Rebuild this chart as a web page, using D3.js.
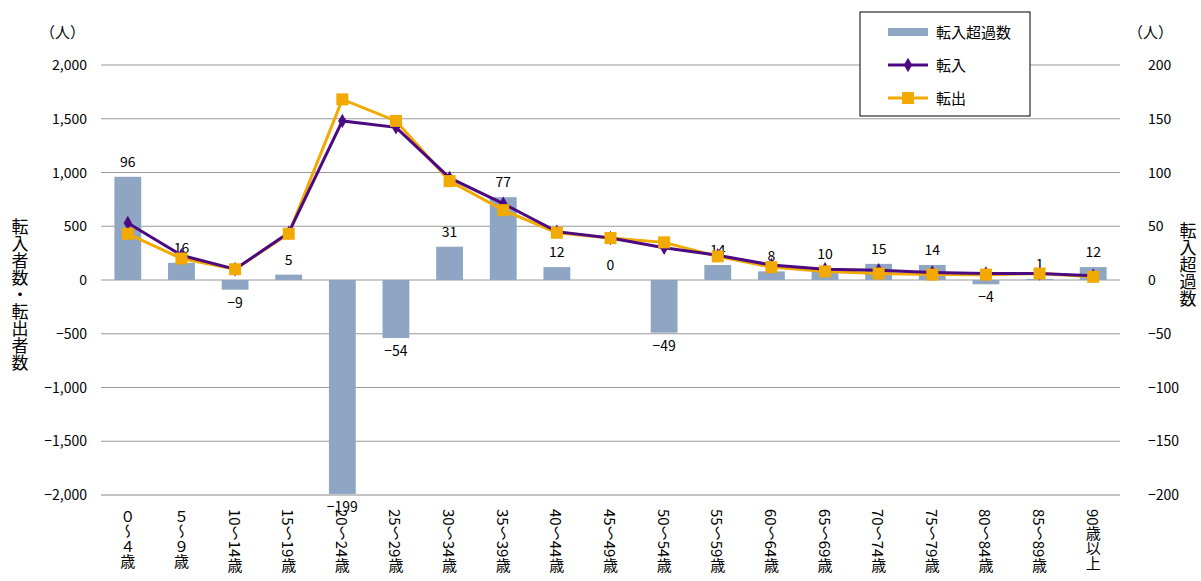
<!DOCTYPE html>
<html><head><meta charset="utf-8">
<script src="https://cdn.jsdelivr.net/npm/d3@7"></script>
<style>
body{margin:0;background:#fff;font-family:"Noto Sans CJK JP",sans-serif;}
text{font-family:"Noto Sans CJK JP",sans-serif;}
</style></head><body>
<script>
var categories = ["０～４歳","５～９歳","10～14歳","15～19歳","20～24歳","25～29歳","30～34歳","35～39歳","40～44歳","45～49歳","50～54歳","55～59歳","60～64歳","65～69歳","70～74歳","75～79歳","80～84歳","85～89歳","90歳以上"];
var netValues = [96,16,-9,5,-199,-54,31,77,12,0,-49,14,8,10,15,14,-4,1,12];
var inValues = [530,230,100,440,1480,1420,950,710,450,390,300,230,140,100,90,70,60,60,40];
var outValues = [430,200,100,430,1680,1480,920,650,440,390,350,220,120,80,60,50,50,60,30];
var leftTicks = [-2000,-1500,-1000,-500,0,500,1000,1500,2000];
var rightTicks = [-200,-150,-100,-50,0,50,100,150,200];

var W = 1201, H = 581;
var m = {left:101, right:81, top:65, bottom:86};
var svg = d3.select("body").append("svg").attr("width",W).attr("height",H);

var x = d3.scaleBand().domain(categories).range([m.left, W-m.right]).paddingInner(0.5).paddingOuter(0.25);
var yL = d3.scaleLinear().domain([-2000,2000]).range([H-m.bottom, m.top]);
var yR = d3.scaleLinear().domain([-200,200]).range([H-m.bottom, m.top]);
var cx = function(i){ return x(categories[i]) + x.bandwidth()/2; };

// gridlines
svg.append("g").selectAll("line").data(leftTicks).enter().append("line")
  .attr("x1",m.left).attr("x2",W-m.right).attr("y1",d=>yL(d)).attr("y2",d=>yL(d))
  .attr("stroke",d=>d===-2000?"#888":"#999").attr("stroke-width",1);

// tick labels
svg.append("g").selectAll("text").data(leftTicks).enter().append("text")
  .attr("x",m.left-14).attr("y",d=>yL(d)+5).attr("text-anchor","end")
  .attr("font-size",14).text(d=>d3.format(",")(d).replace("-","−"));
svg.append("g").selectAll("text").data(rightTicks).enter().append("text")
  .attr("x",W-m.right+28).attr("y",d=>yR(d)+5).attr("text-anchor","start")
  .attr("font-size",14).text(d=>String(d).replace("-","−"));

// bars
svg.append("g").selectAll("rect").data(netValues).enter().append("rect")
  .attr("x",(d,i)=>x(categories[i])).attr("width",x.bandwidth())
  .attr("y",d=>yR(Math.max(d,0))).attr("height",d=>Math.abs(yR(d)-yR(0)))
  .attr("fill","#8EA5C3");

// bar labels
svg.append("g").selectAll("text").data(netValues).enter().append("text")
  .attr("x",(d,i)=>cx(i)).attr("y",d=>d>=0?yR(d)-10:yR(d)+18)
  .attr("text-anchor","middle").attr("font-size",14)
  .text(d=>String(d).replace("-","−"));

// lines
var line = d3.line().x((d,i)=>cx(i)).y(d=>yL(d));
svg.append("path").datum(outValues).attr("d",line).attr("fill","none").attr("stroke","#F2A900").attr("stroke-width",3);
svg.append("path").datum(inValues).attr("d",line).attr("fill","none").attr("stroke","#4B0A82").attr("stroke-width",3);
svg.append("g").selectAll("path").data(inValues).enter().append("path")
  .attr("d",d3.symbol().type(d3.symbolDiamond).size(60))
  .attr("transform",(d,i)=>`translate(${cx(i)},${yL(d)})`).attr("fill","#4B0A82");
svg.append("g").selectAll("rect").data(outValues).enter().append("rect")
  .attr("x",(d,i)=>cx(i)-6).attr("y",d=>yL(d)-6).attr("width",12).attr("height",12)
  .attr("fill","#F2A900");

// x labels (vertical)
svg.append("g").selectAll("text").data(categories).enter().append("text")
  .attr("x",(d,i)=>cx(i)).attr("y",H-m.bottom+14)
  .attr("writing-mode","vertical-rl").attr("font-size",15).text(d=>d);

// units & axis titles
svg.append("text").attr("x",40).attr("y",38).attr("font-size",15).text("（人）");
svg.append("text").attr("x",1128).attr("y",38).attr("font-size",15).text("（人）");
svg.append("text").attr("x",20).attr("y",218).attr("writing-mode","vertical-rl")
  .attr("font-size",17).text("転入者数・転出者数");
svg.append("text").attr("x",1188).attr("y",222).attr("writing-mode","vertical-rl")
  .attr("font-size",17).text("転入超過数");

// legend
var lg = svg.append("g").attr("transform","translate(860,12)");
lg.append("rect").attr("width",170).attr("height",104).attr("fill","#fff").attr("stroke","#000");
lg.append("rect").attr("x",28).attr("y",16).attr("width",40).attr("height",8).attr("fill","#8EA5C3");
lg.append("text").attr("x",76).attr("y",26).attr("font-size",15).text("転入超過数");
lg.append("line").attr("x1",28).attr("x2",68).attr("y1",53).attr("y2",53).attr("stroke","#4B0A82").attr("stroke-width",3);
lg.append("path").attr("d",d3.symbol().type(d3.symbolDiamond).size(60)).attr("transform","translate(48,53)").attr("fill","#4B0A82");
lg.append("text").attr("x",76).attr("y",59).attr("font-size",15).text("転入");
lg.append("line").attr("x1",28).attr("x2",68).attr("y1",86).attr("y2",86).attr("stroke","#F2A900").attr("stroke-width",3);
lg.append("rect").attr("x",42).attr("y",80).attr("width",12).attr("height",12).attr("fill","#F2A900");
lg.append("text").attr("x",76).attr("y",92).attr("font-size",15).text("転出");
</script></body></html>
